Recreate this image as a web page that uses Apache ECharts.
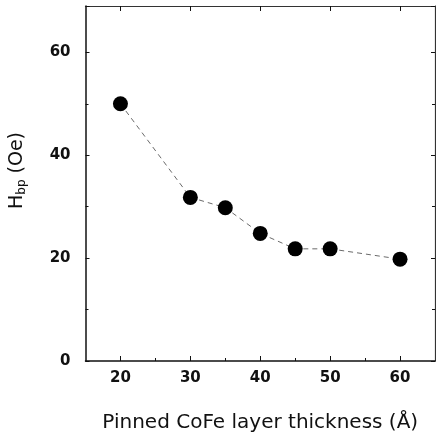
<!DOCTYPE html>
<html><head><meta charset="utf-8">
<script src="https://cdn.jsdelivr.net/npm/echarts@6/dist/echarts.min.js"></script>
<style>html,body{margin:0;padding:0;background:#fff}#c{width:436px;height:440px}</style>
</head><body><div id="c"></div>
<script>
const thickness = [20, 30, 35, 40, 45, 50, 60];
const hbp = [50, 31.8, 29.8, 24.8, 21.8, 21.8, 19.8];
const xMajorTicks = [20, 30, 40, 50, 60];
const xMinorTicks = [25, 35, 45, 55];

const chart = echarts.init(document.getElementById('c'));
const axisCol = '#111';
const lab = { fontFamily: 'DejaVu Sans', fontWeight: 'bold', fontSize: 15, color: '#111' };
chart.setOption({
  animation: false,
  grid: { left: 82, top: 6, right: 1, bottom: 79 },
  xAxis: [
    { type: 'value', min: 15, max: 65, position: 'bottom',
      axisLine: { lineStyle: { color: axisCol, width: 1.5 } },
      axisTick: { show: true, inside: true, length: 5, customValues: xMajorTicks, lineStyle: { color: axisCol } },
      axisLabel: Object.assign({ customValues: xMajorTicks, margin: 10 }, lab),
      splitLine: { show: false },
      name: 'Pinned CoFe layer thickness (Å)', nameLocation: 'middle', nameGap: 52,
      nameTextStyle: { fontFamily: 'DejaVu Sans', fontSize: 20, color: '#111' } },
    { type: 'value', min: 15, max: 65, position: 'bottom',
      axisLine: { show: false },
      axisTick: { show: true, inside: true, length: 3, customValues: xMinorTicks, lineStyle: { color: axisCol } },
      axisLabel: { show: false }, splitLine: { show: false } },
    { type: 'value', min: 15, max: 65, position: 'top',
      axisLine: { lineStyle: { color: '#333', width: 1.2 } },
      axisTick: { show: true, inside: true, length: 5, customValues: xMajorTicks, lineStyle: { color: axisCol } },
      minorTick: { show: false },
      axisLabel: { show: false }, splitLine: { show: false } }
  ],
  yAxis: [
    { type: 'value', min: 0, max: 69, interval: 20, position: 'left',
      axisLine: { show: true, lineStyle: { color: axisCol, width: 1.5 } },
      axisTick: { show: true, inside: true, length: 4, lineStyle: { color: axisCol } },
      minorTick: { show: true, splitNumber: 2, length: 3, lineStyle: { color: axisCol } },
      axisLabel: Object.assign({ margin: 15, showMaxLabel: false }, lab),
      splitLine: { show: false },
      name: '{h|H}{s|bp}{h| (Oe)}', nameLocation: 'middle', nameGap: 58, nameRotate: 90,
      nameTextStyle: { padding: [0, 0, 0, 26], rich: {
        h: { fontFamily: 'DejaVu Sans', fontSize: 19, color: '#111' },
        s: { fontFamily: 'DejaVu Sans', fontSize: 12, color: '#111', verticalAlign: 'bottom', padding: [8, 0, 0, 0] } } } },
    { type: 'value', min: 0, max: 69, interval: 20, position: 'right',
      axisLine: { show: true, lineStyle: { color: '#333', width: 1.2 } },
      axisTick: { show: true, inside: true, length: 4, lineStyle: { color: axisCol } },
      minorTick: { show: true, splitNumber: 2, length: 3, lineStyle: { color: axisCol } },
      axisLabel: { show: false }, splitLine: { show: false } }
  ],
  series: [{
    type: 'line', xAxisIndex: 0, yAxisIndex: 0,
    data: thickness.map((t, i) => [t, hbp[i]]),
    symbol: 'circle', symbolSize: 15,
    itemStyle: { color: '#000' },
    lineStyle: { color: '#444', width: 0.8, type: [5, 4] }
  }]
});
</script></body></html>
